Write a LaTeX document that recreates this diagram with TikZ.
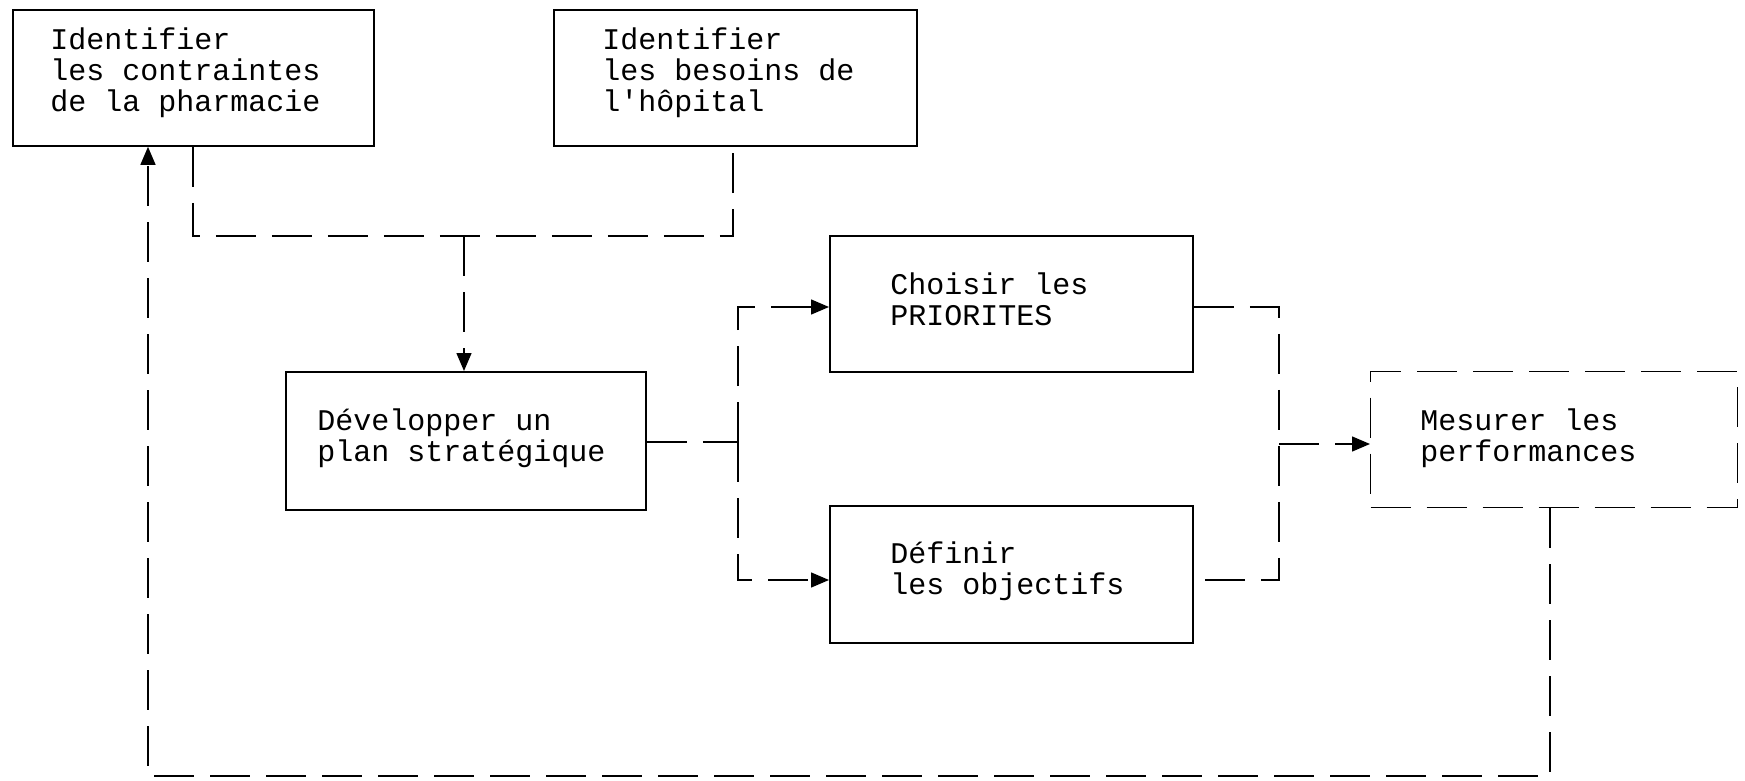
\documentclass[tikz,border=0pt]{standalone}
\usepackage{fontspec}
\setmonofont{Liberation Mono}
\usetikzlibrary{arrows.meta}
\begin{document}
\begin{tikzpicture}[x=0.5pt,y=-0.5pt,
  box/.style={draw, line width=0.9pt, inner sep=0pt, anchor=north west},
  dbox/.style={box, line width=0.7pt, dash pattern=on 20pt off 8pt},
  lbl/.style={anchor=west, align=left, inner sep=0pt,
    font=\ttfamily\fontsize{15}{15.5}\selectfont},
  link/.style={line width=0.7pt, dash pattern=on 20pt off 8pt},
  tip/.style={-{Triangle[length=9pt,width=7.5pt]}}
]
\useasboundingbox (0,0) rectangle (1745,781);

% process boxes
\node[box, minimum width=180.5pt, minimum height=68pt]   (A) at (12,9)    {};
\node[box, minimum width=181.5pt, minimum height=68pt]   (B) at (553,9)   {};
\node[box, minimum width=180pt,   minimum height=69pt]   (C) at (285,371) {};
\node[box, minimum width=181.5pt, minimum height=68pt]   (D) at (829,235) {};
\node[box, minimum width=181.5pt, minimum height=68.5pt] (E) at (829,505) {};
\node[dbox, minimum width=183.5pt, minimum height=68pt]  (F) at (1370,371) {};

% box texts
\node[lbl] (At) at (50,73)   {Identifier\\les contraintes\\de la pharmacie};
\node[lbl] (Bt) at (602,73)  {Identifier\\les besoins de\\l'hôpital};
\node[lbl] (Ct) at (317,438) {Développer un\\plan stratégique};
\node[lbl] (Dt) at (890,299) {Choisir les\\PRIORITES};
\node[lbl] (Et) at (890,571) {Définir\\les objectifs};
\node[lbl] (Ft) at (1420,438) {Mesurer les\\performances};

% junction points
\coordinate (j1) at (193,236);
\coordinate (j2) at (733,236);
\coordinate (j3) at (464,236);
\coordinate (k)  at (738,442);
\coordinate (k1) at (738,307);
\coordinate (k2) at (738,580);
\coordinate (m)  at (1279,444);
\coordinate (m1) at (1279,307);
\coordinate (m2) at (1279,580);
\coordinate (n1) at (1550,776);
\coordinate (n2) at (148,776);

% constraints and needs feed the strategic plan
\draw[link] (A.south -| j1) -- (j1) -- (j2) -- (B.south -| j2);
\draw[link,tip] (j3) -- (C.north -| j3);

% plan splits into priorities and objectives
\draw[link] (C.east |- k) -- (k);
\draw[link,tip] (k) -- (k1) -- (D.west |- k1);
\draw[link,tip] (k) -- (k2) -- (E.west |- k2);

% both lead to performance measurement
\draw[link] (D.east |- m1) -- (m1) -- (m2) -- (E.east |- m2);
\draw[link,tip] (m) -- (F.west |- m);

% feedback loop
\draw[link,tip] (F.south -| n1) -- (n1) -- (n2) -- (A.south -| n2);
\end{tikzpicture}
\end{document}
